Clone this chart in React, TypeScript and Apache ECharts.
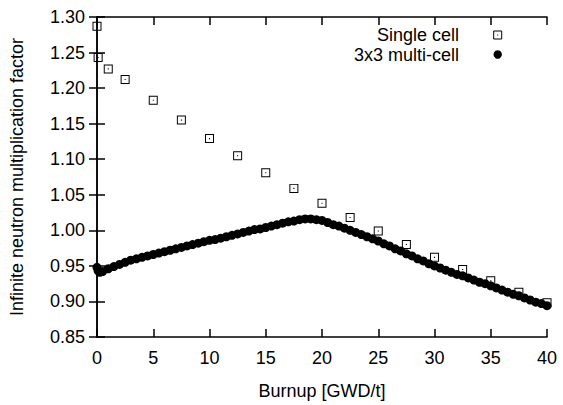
import React, { useEffect, useRef } from "react";
import * as echarts from "echarts";

const singleBurnup = [0, 0.1, 1, 2.5, 5, 7.5, 10, 12.5, 15, 17.5, 20, 22.5, 25, 27.5, 30, 32.5, 35, 37.5, 40];
const singleK = [1.287, 1.243, 1.227, 1.212, 1.183, 1.155, 1.129, 1.105, 1.081, 1.059, 1.038, 1.018, 0.999, 0.980, 0.962, 0.945, 0.929, 0.913, 0.898];

const multiBurnup = [
  0, 0.1, 0.25, 0.5, 1, 1.5, 2, 2.5, 3, 3.5, 4, 4.5, 5, 5.5, 6, 6.5, 7, 7.5, 8, 8.5, 9, 9.5,
  10, 10.5, 11, 11.5, 12, 12.5, 13, 13.5, 14, 14.5, 15, 15.5, 16, 16.5, 17, 17.5, 18, 18.5, 19, 19.5,
  20, 20.5, 21, 21.5, 22, 22.5, 23, 23.5, 24, 24.5, 25, 25.5, 26, 26.5, 27, 27.5, 28, 28.5, 29, 29.5,
  30, 30.5, 31, 31.5, 32, 32.5, 33, 33.5, 34, 34.5, 35, 35.5, 36, 36.5, 37, 37.5, 38, 38.5, 39, 39.5, 40,
];
const multiK = [
  0.948, 0.943, 0.941, 0.942, 0.946, 0.949, 0.952, 0.955, 0.958, 0.960, 0.962, 0.964, 0.966, 0.968, 0.970, 0.972, 0.974, 0.976, 0.978, 0.980, 0.982, 0.984,
  0.986, 0.987, 0.989, 0.991, 0.993, 0.995, 0.997, 0.999, 1.001, 1.002, 1.004, 1.006, 1.008, 1.010, 1.012, 1.013, 1.015, 1.016, 1.016, 1.015,
  1.014, 1.011, 1.008, 1.006, 1.003, 1.000, 0.997, 0.994, 0.991, 0.988, 0.985, 0.981, 0.978, 0.974, 0.971, 0.967, 0.964, 0.960, 0.957, 0.953,
  0.950, 0.947, 0.944, 0.941, 0.938, 0.936, 0.933, 0.930, 0.927, 0.925, 0.922, 0.919, 0.916, 0.913, 0.910, 0.908, 0.905, 0.902, 0.899, 0.897, 0.894,
];

const seriesNames = ["Single cell", "3x3 multi-cell"];
const xTicks = { min: 0, max: 40, interval: 5 };
const yTicks = { min: 0.85, max: 1.3, interval: 0.05 };

const FONT = '"Liberation Sans", Arial, Helvetica, sans-serif';
const FS = 18;
const boxDot = "path://M0,0 H10 V10 H0 Z M1.1,1.1 V8.9 H8.9 V1.1 Z M4.4,4.4 H5.6 V5.6 H4.4 Z";

export default function App() {
  const ref = useRef<HTMLDivElement>(null);
  useEffect(() => {
    if (!ref.current) return;
    const chart = echarts.init(ref.current, null, { renderer: "svg" });
    const axisLine = { show: true, lineStyle: { color: "#000", width: 1.5 } };
    const axisTick = { show: true, inside: true, length: 8, lineStyle: { color: "#000", width: 1.5 } };
    const label = { color: "#000", fontSize: FS, fontFamily: FONT };
    chart.setOption({
      animation: false,
      backgroundColor: "#fff",
      grid: { left: 96.5, right: 16, top: 17, bottom: 66.7, containLabel: false },
      xAxis: [
        {
          type: "value", position: "bottom", ...xTicks,
          name: "Burnup [GWD/t]", nameLocation: "middle", nameGap: 45,
          nameTextStyle: { color: "#000", fontSize: FS, fontFamily: FONT },
          axisLine, axisTick, splitLine: { show: false },
          axisLabel: { ...label, margin: 12 },
        },
        {
          type: "value", position: "top", ...xTicks,
          axisLine, axisTick, splitLine: { show: false }, axisLabel: { show: false },
        },
      ],
      yAxis: [
        {
          type: "value", position: "left", ...yTicks,
          name: "Infinite neutron multiplication factor", nameLocation: "middle", nameGap: 71,
          nameTextStyle: { color: "#000", fontSize: FS, fontFamily: FONT },
          axisLine, axisTick, splitLine: { show: false },
          axisLabel: { ...label, margin: 12, formatter: (v: number) => v.toFixed(2) },
        },
        {
          type: "value", position: "right", ...yTicks,
          axisLine, axisTick, splitLine: { show: false }, axisLabel: { show: false },
        },
      ],
      series: [
        {
          name: seriesNames[0], type: "scatter", clip: false,
          symbol: boxDot, symbolSize: 9,
          itemStyle: { color: "#000", opacity: 1 },
          emphasis: { disabled: true },
          data: singleBurnup.map((x, i) => [x, singleK[i]]),
        },
        {
          name: seriesNames[1], type: "scatter", clip: false,
          symbol: "circle", symbolSize: 9,
          itemStyle: { color: "#000", opacity: 1 },
          emphasis: { disabled: true },
          data: multiBurnup.map((x, i) => [x, multiK[i]]),
        },
      ],
      graphic: [
        { type: "text", style: { text: seriesNames[0], x: 459, y: 35, align: "right", verticalAlign: "middle", font: `${FS}px ${FONT}`, fill: "#000" } },
        { type: "text", style: { text: seriesNames[1], x: 459, y: 54.5, align: "right", verticalAlign: "middle", font: `${FS}px ${FONT}`, fill: "#000" } },
        { type: "rect", shape: { x: 493.7, y: 31, width: 8, height: 8 }, style: { fill: "#fff", stroke: "#000", lineWidth: 1 } },
        { type: "rect", shape: { x: 497.2, y: 34.5, width: 1, height: 1 }, style: { fill: "#000" } },
        { type: "circle", shape: { cx: 497.7, cy: 54.5, r: 4.2 }, style: { fill: "#000" } },
      ],
    });
    return () => chart.dispose();
  }, []);
  return <div ref={ref} style={{ position: "fixed", left: 0, top: 0, width: 563, height: 405 }} />;
}
